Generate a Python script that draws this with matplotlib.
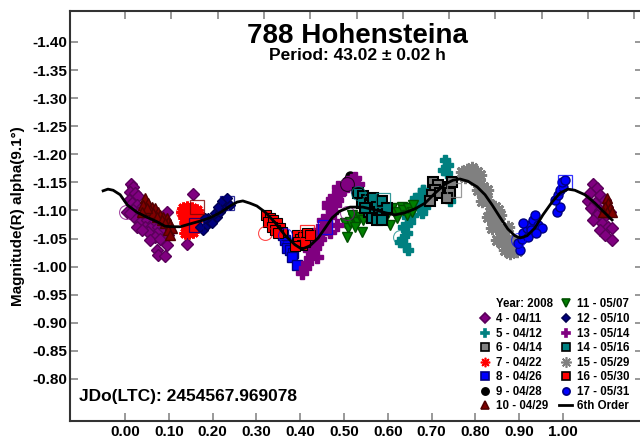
import matplotlib
matplotlib.use("Agg")
import matplotlib.pyplot as plt
from matplotlib.lines import Line2D

plt.rcParams['font.family'] = ['Liberation Sans', 'DejaVu Sans']
plt.rcParams['font.weight'] = 'bold'

# ---------------- data (phase, magnitude) ----------------
s4_x = [0.014, 0.018, 0.011, 0.023, 0.030, 0.008, 0.015, 0.027, 0.038, 0.019, 0.004, 0.030, 0.042, 0.023,
        0.034, 0.050, 0.065, 0.046, 0.057, 0.076, 0.087, 0.072, 0.053, 0.068, 0.057, 0.080, 0.095, 0.091,
        0.099, 0.095, 0.072, 0.076, 0.091, 0.141, 0.156, 0.011, 0.027, 0.038,
        1.069, 1.077, 1.062, 1.084, 1.058, 1.073, 1.096, 1.065, 1.084, 1.100, 1.077, 1.092, 1.107, 1.069,
        1.088, 1.103, 1.111, 1.084, 1.096, 1.111]
s4_y = [-1.148, -1.142, -1.133, -1.131, -1.125, -1.119, -1.113, -1.110, -1.107, -1.101, -1.098, -1.095,
        -1.092, -1.086, -1.080, -1.083, -1.077, -1.071, -1.068, -1.071, -1.065, -1.059, -1.062, -1.053,
        -1.047, -1.050, -1.098, -1.083, -1.056, -1.039, -1.030, -1.021, -1.019, -1.040, -1.129, -1.095,
        -1.071, -1.065,
        -1.148, -1.140, -1.131, -1.128, -1.116, -1.113, -1.119, -1.104, -1.101, -1.107, -1.092, -1.086,
        -1.098, -1.083, -1.077, -1.071, -1.068, -1.065, -1.056, -1.047]

s5_x = [0.681, 0.674, 0.662, 0.666, 0.655, 0.677, 0.643, 0.651, 0.635, 0.643, 0.632, 0.639, 0.647, 0.628,
        0.658, 0.662, 0.731, 0.738, 0.727, 0.734, 0.681, 0.677, 0.685, 0.677, 0.742]
s5_y = [-1.136, -1.128, -1.119, -1.110, -1.104, -1.113, -1.089, -1.080, -1.071, -1.059, -1.050, -1.039,
        -1.030, -1.044, -1.092, -1.122, -1.190, -1.181, -1.172, -1.166, -1.136, -1.119, -1.107, -1.095,
        -1.116]

s6_x = [0.704, 0.715, 0.708, 0.700, 0.719, 0.738, 0.742, 0.734, 0.696, 0.746]
s6_y = [-1.151, -1.145, -1.136, -1.128, -1.131, -1.142, -1.131, -1.122, -1.116, -1.151]

s7_x = [0.133, 0.141, 0.137, 0.148, 0.135, 0.145, 0.156, 0.137, 0.148, 0.160, 0.141, 0.152, 0.164, 0.145,
        0.156, 0.137, 0.129, 0.152, 0.164, 0.167]
s7_y = [-1.104, -1.107, -1.095, -1.098, -1.086, -1.089, -1.092, -1.077, -1.080, -1.083, -1.068, -1.071,
        -1.074, -1.059, -1.062, -1.059, -1.098, -1.104, -1.101, -1.095]

s8_x = [0.365, 0.373, 0.369, 0.377, 0.384, 0.381, 0.392, 0.361]
s8_y = [-1.047, -1.039, -1.033, -1.030, -1.024, -1.018, -1.003, -1.056]

s9_x = [0.514, 0.510]
s9_y = [-1.161, -1.154]

s10_x = [0.046, 0.053, 0.042, 0.061, 0.068, 0.057, 0.076, 0.065, 0.080, 0.087, 0.072, 0.095, 0.084, 0.099,
         0.091, 0.103, 0.107, 0.099, 0.103, 0.050, 0.038,
         1.100, 1.103, 1.096, 1.107, 1.100, 1.111, 1.092]
s10_y = [-1.122, -1.113, -1.110, -1.107, -1.104, -1.101, -1.098, -1.095, -1.092, -1.089, -1.089, -1.086,
         -1.083, -1.080, -1.077, -1.074, -1.068, -1.065, -1.056, -1.104, -1.098,
         -1.122, -1.113, -1.107, -1.104, -1.098, -1.098, -1.098]

s11_x = [0.502, 0.510, 0.514, 0.521, 0.529, 0.525, 0.537, 0.540, 0.544, 0.552, 0.548, 0.559, 0.506, 0.575,
         0.586, 0.597, 0.605, 0.609, 0.616, 0.624, 0.632, 0.635, 0.643, 0.647, 0.655, 0.658, 0.620, 0.590,
         0.518]
s11_y = [-1.077, -1.068, -1.080, -1.086, -1.080, -1.071, -1.089, -1.062, -1.083, -1.092, -1.098, -1.089,
         -1.053, -1.095, -1.101, -1.092, -1.074, -1.104, -1.095, -1.098, -1.107, -1.101, -1.092, -1.104,
         -1.098, -1.110, -1.086, -1.089, -1.092]

s12_x = [0.179, 0.171, 0.187, 0.194, 0.202, 0.190, 0.209, 0.205, 0.217, 0.224, 0.213, 0.232, 0.221, 0.240,
         0.232, 0.198, 0.183]
s12_y = [-1.065, -1.071, -1.074, -1.080, -1.083, -1.086, -1.089, -1.095, -1.098, -1.104, -1.107, -1.113,
         -1.116, -1.110, -1.122, -1.077, -1.086]

s13_x = [0.403, 0.411, 0.415, 0.422, 0.426, 0.419, 0.434, 0.438, 0.430, 0.445, 0.449, 0.441, 0.457, 0.460,
         0.453, 0.468, 0.472, 0.464, 0.479, 0.483, 0.476, 0.491, 0.498, 0.487, 0.502, 0.510, 0.518, 0.525,
         0.521, 0.533, 0.464, 0.483, 0.468, 0.438]
s13_y = [-0.988, -0.997, -1.006, -1.015, -1.024, -1.030, -1.033, -1.042, -1.044, -1.050, -1.059, -1.065,
         -1.068, -1.077, -1.083, -1.089, -1.098, -1.107, -1.110, -1.119, -1.125, -1.131, -1.136, -1.142,
         -1.148, -1.151, -1.154, -1.157, -1.142, -1.148, -1.113, -1.074, -1.062, -1.018]

s14_x = [0.533, 0.544, 0.552, 0.540, 0.559, 0.567, 0.575, 0.586, 0.590, 0.578, 0.597, 0.556, 0.563, 0.548,
         0.575, 0.586]
s14_y = [-1.131, -1.125, -1.119, -1.113, -1.110, -1.122, -1.107, -1.116, -1.098, -1.092, -1.104, -1.098,
         -1.086, -1.104, -1.083, -1.083]

s15_x = [0.769, 0.780, 0.792, 0.803, 0.811, 0.776, 0.788, 0.799, 0.811, 0.818, 0.807, 0.818, 0.826, 0.833,
         0.845, 0.837, 0.852, 0.856, 0.841, 0.849, 0.837, 0.856, 0.864, 0.849, 0.860, 0.871, 0.868, 0.879,
         0.887, 0.894, 0.875, 0.826, 0.814, 0.829, 0.773, 0.795, 0.822, 0.845, 0.860, 0.883]
s15_y = [-1.169, -1.172, -1.175, -1.169, -1.163, -1.160, -1.160, -1.154, -1.148, -1.142, -1.136, -1.128,
         -1.119, -1.110, -1.107, -1.098, -1.101, -1.092, -1.083, -1.074, -1.068, -1.065, -1.056, -1.047,
         -1.042, -1.047, -1.030, -1.024, -1.036, -1.027, -1.071, -1.136, -1.116, -1.089, -1.166, -1.166,
         -1.128, -1.092, -1.060, -1.045]

s16_x = [0.323, 0.331, 0.327, 0.339, 0.346, 0.335, 0.354, 0.342, 0.358, 0.350, 0.392, 0.400, 0.407, 0.396,
         0.415, 0.403, 0.411, 0.422, 0.388]
s16_y = [-1.092, -1.086, -1.080, -1.083, -1.077, -1.071, -1.068, -1.065, -1.062, -1.059, -1.056, -1.050,
         -1.053, -1.044, -1.059, -1.039, -1.044, -1.056, -1.036]

s17_x = [0.902, 0.898, 0.906, 0.909, 0.917, 0.925, 0.932, 0.936, 0.928, 0.944, 0.951, 0.921, 0.939, 0.986,
         0.993, 0.982, 0.989, 0.993, 1.001, 0.997, 1.005, 0.909]
s17_y = [-1.030, -1.042, -1.050, -1.059, -1.068, -1.074, -1.083, -1.092, -1.065, -1.074, -1.068, -1.053,
         -1.059, -1.098, -1.107, -1.119, -1.128, -1.136, -1.142, -1.151, -1.154, -1.077]

# session start (circle) / end (square) markers
start_x = [0.002, 0.132, 0.320, 0.365, 0.506, 0.533, 0.506, 0.628, 0.898]
start_y = [-1.098, -1.098, -1.059, -1.056, -1.147, -1.131, -1.095, -1.052, -1.047]
start_c = ['#800080', '#FF0000', '#FF0000', '#0000FF', '#000000', '#008080', '#800080', '#008080', '#0000FF']
end_x = [0.164, 0.162, 0.233, 0.415, 0.457, 0.590, 0.750, 1.005]
end_y = [-1.107, -1.074, -1.113, -1.062, -1.071, -1.119, -1.136, -1.151]
end_c = ['#800000', '#000080', '#000080', '#FF0000', '#0000FF', '#008080', '#808080', '#0000FF']

# 6th order fit
fit_x = [-0.050, -0.039, -0.027, -0.011, 0.005, 0.027, 0.050, 0.073, 0.091, 0.107, 0.126, 0.148, 0.171,
         0.194, 0.217, 0.240, 0.256, 0.269, 0.285, 0.301, 0.320, 0.342, 0.365, 0.388, 0.404, 0.422, 0.441,
         0.457, 0.473, 0.491, 0.514, 0.543, 0.571, 0.594, 0.616, 0.639, 0.662, 0.685, 0.708, 0.731, 0.749,
         0.765, 0.783, 0.804, 0.822, 0.838, 0.856, 0.874, 0.890, 0.902, 0.918, 0.936, 0.954, 0.975, 0.993,
         1.011, 1.027, 1.050, 1.073, 1.091, 1.112]
fit_y = [-1.135, -1.138, -1.136, -1.128, -1.110, -1.097, -1.088, -1.080, -1.072, -1.071, -1.071, -1.076,
         -1.081, -1.087, -1.096, -1.108, -1.115, -1.117, -1.113, -1.108, -1.097, -1.079, -1.056, -1.039,
         -1.031, -1.037, -1.051, -1.069, -1.087, -1.099, -1.106, -1.106, -1.101, -1.096, -1.092, -1.096,
         -1.103, -1.113, -1.131, -1.147, -1.154, -1.156, -1.152, -1.142, -1.128, -1.110, -1.088, -1.067,
         -1.055, -1.051, -1.055, -1.069, -1.092, -1.115, -1.131, -1.138, -1.136, -1.128, -1.113, -1.099,
         -1.083]

y_ticks = [-1.40, -1.35, -1.30, -1.25, -1.20, -1.15, -1.10, -1.05, -1.00, -0.95, -0.90, -0.85, -0.80]
x_ticks = [0.0, 0.1, 0.2, 0.3, 0.4, 0.5, 0.6, 0.7, 0.8, 0.9, 1.0]
top_ticks = [0.0, 0.1057, 0.2114, 0.3171, 0.4228, 0.5285, 0.6342, 0.7399, 0.8456, 0.9513, 1.057, 1.1627]

fig = plt.figure(figsize=(6.4, 4.41), dpi=100)
ax = fig.add_axes([70/640, 20/441, 573/640, 410/441])

series = [
    ('4 - 04/11', s4_x, s4_y, dict(marker='D', color='#800080', mec='#5a005a', ms=6.5)),
    ('5 - 04/12', s5_x, s5_y, dict(marker='P', color='#008080', mec='#008080', ms=7.5)),
    ('6 - 04/14', s6_x, s6_y, dict(marker='s', color='#808080', mec='#000000', ms=7.5, mew=1.5)),
    ('7 - 04/22', s7_x, s7_y, dict(marker=(8, 2, 0), color='#FF0000', mec='#FF0000', ms=8.5, mew=2)),
    ('8 - 04/26', s8_x, s8_y, dict(marker='s', color='#0000FF', mec='#000080', ms=7)),
    ('9 - 04/28', s9_x, s9_y, dict(marker='o', color='#000000', mec='#000000', ms=6.5)),
    ('10 - 04/29', s10_x, s10_y, dict(marker='^', color='#800000', mec='#500000', ms=7)),
    ('11 - 05/07', s11_x, s11_y, dict(marker='v', color='#008000', mec='#005000', ms=7)),
    ('12 - 05/10', s12_x, s12_y, dict(marker='D', color='#000080', mec='#000050', ms=5.5)),
    ('13 - 05/14', s13_x, s13_y, dict(marker='P', color='#800080', mec='#800080', ms=8)),
    ('14 - 05/16', s14_x, s14_y, dict(marker='s', color='#008080', mec='#000000', ms=7.5, mew=1.5)),
    ('15 - 05/29', s15_x, s15_y, dict(marker=(8, 2, 0), color='#808080', mec='#808080', ms=9.5, mew=2)),
    ('16 - 05/30', s16_x, s16_y, dict(marker='s', color='#FF0000', mec='#000000', ms=7.5, mew=0.8)),
    ('17 - 05/31', s17_x, s17_y, dict(marker='o', color='#0000FF', mec='#000080', ms=6.5)),
]

for label, xs, ys, st in series:
    kw = dict(st)
    color = kw.pop('color')
    ax.plot(xs, ys, linestyle='none', mfc=color, zorder=3, **kw)

for x, y, c in zip(start_x, start_y, start_c):
    ax.plot([x], [y], linestyle='none', marker='o', mfc='none', mec=c, ms=10, mew=0.8, alpha=0.7, zorder=4)
for x, y, c in zip(end_x, end_y, end_c):
    ax.plot([x], [y], linestyle='none', marker='s', mfc='none', mec=c, ms=10, mew=0.9, alpha=0.8, zorder=4)

ax.plot(fit_x, fit_y, color='black', lw=2, zorder=5)

ax.set_xlim(-0.1256, 1.1826)
ax.set_ylim(-0.7251, -1.4552)
ax.set_yticks(y_ticks)
ax.set_yticklabels([f'{v:.2f}' for v in y_ticks])
ax.set_xticks(x_ticks)
ax.set_xticklabels([f'{v:.2f}' for v in x_ticks])
ax.tick_params(axis='both', direction='in', labelsize=11, colors='#888888', labelcolor='black')
ax.tick_params(axis='y', length=6, width=1.2, pad=2, right=True)
ax.tick_params(axis='x', length=6, width=1.2, pad=3)
for lab in ax.get_xticklabels() + ax.get_yticklabels():
    lab.set_fontweight('bold')

sec = ax.secondary_xaxis('top')
sec.set_xticks(top_ticks)
sec.set_xticklabels([])
sec.tick_params(direction='in', length=6, width=1.2, colors='#888888')
sec.spines['top'].set_visible(False)

for sp in ax.spines.values():
    sp.set_linewidth(1.5)
    sp.set_color('#333333')

ax.set_ylabel('Magnitude(R) alpha(9.1°)', fontsize=11, fontweight='bold')
ax.yaxis.set_label_coords((25 - 70) / 573, 0.50)

fig.text(357/640, 1 - 36/441, '788 Hohensteina', ha='center', va='center', fontsize=20, fontweight='bold')
fig.text(357/640, 1 - 56/441, 'Period: 43.02 ± 0.02 h', ha='center', va='center', fontsize=12.5, fontweight='bold')
fig.text(79/640, 1 - 396/441, 'JDo(LTC): 2454567.969078', ha='left', va='center', fontsize=12.5, fontweight='bold')

# legend: column 1 = header + sessions 4..10, column 2 = sessions 11..17 + fit
leg_handles = [Line2D([], [], linestyle='none', marker='None')]
leg_labels = ['Year: 2008']
for label, xs, ys, st in series:
    kw = dict(st)
    color = kw.pop('color')
    ms = kw.pop('ms')
    kw.pop('mew', None)
    leg_handles.append(Line2D([], [], linestyle='none', mfc=color, ms=ms * 0.8, mew=1.2, **kw))
    leg_labels.append(label)
leg_handles.append(Line2D([], [], color='black', lw=2))
leg_labels.append('6th Order')
ax.legend(leg_handles, leg_labels, ncol=2, loc='lower right', bbox_to_anchor=(635/640, 1 - 418/441),
          bbox_transform=fig.transFigure, frameon=False, prop={'weight': 'bold', 'size': 8.3},
          handlelength=1.1, handletextpad=0.4, columnspacing=0.6, labelspacing=0.22, borderpad=0)
fig.savefig('out.png', dpi=100)
